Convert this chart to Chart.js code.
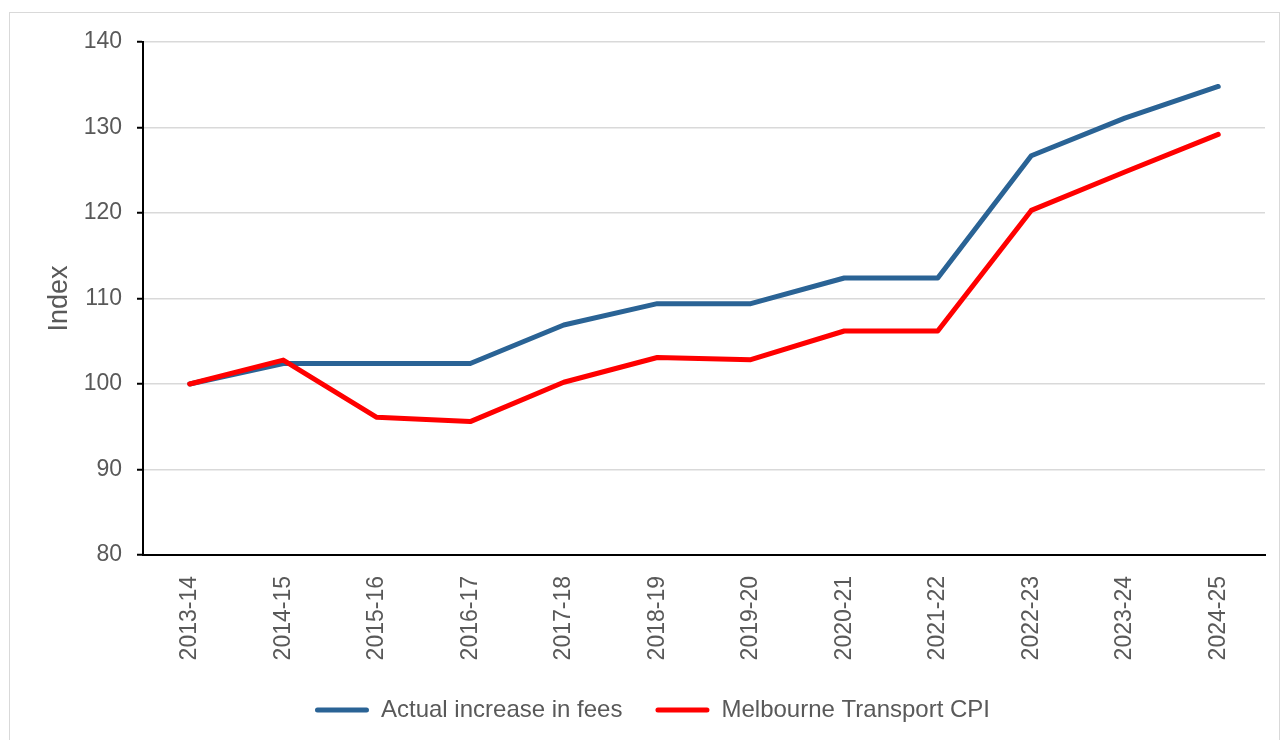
<!DOCTYPE html>
<html lang="en">
<head>
    <meta charset="UTF-8">
    <title>Fees vs Melbourne Transport CPI</title>
    <script src="https://cdn.jsdelivr.net/npm/chart.js"></script>
    <style>
        html, body { margin: 0; padding: 0; background: #ffffff; overflow: hidden; }
        .frame {
            position: absolute; left: 9px; top: 12px; width: 1271px; height: 760px;
            border: 1px solid #d9d9d9; box-sizing: border-box;
        }
        #chart { position: absolute; left: 0; top: 0; }
    </style>
</head>
<body>
    <div class="frame"></div>
    <canvas id="chart" width="1282" height="740"></canvas>

    <script>
        // Data
        const years = ['2013-14', '2014-15', '2015-16', '2016-17', '2017-18', '2018-19',
                       '2019-20', '2020-21', '2021-22', '2022-23', '2023-24', '2024-25'];
        const feesIndex = [100, 102.4, 102.4, 102.4, 106.9, 109.4, 109.4, 112.4, 112.4, 126.7, 131.1, 134.8];
        const transportCpi = [100, 102.8, 96.1, 95.6, 100.2, 103.1, 102.85, 106.2, 106.2, 120.3, 124.8, 129.2];
        const yTicks = [80, 90, 100, 110, 120, 130, 140];

        const textGrey = '#595959';
        const blue = '#2a6395';
        const red = '#ff0000';

        const ctx = document.getElementById('chart').getContext('2d');
        new Chart(ctx, {
            type: 'line',
            data: {
                labels: years,
                datasets: [
                    { label: 'Actual increase in fees', data: feesIndex, borderColor: blue, backgroundColor: blue, order: 1 },
                    { label: 'Melbourne Transport CPI', data: transportCpi, borderColor: red, backgroundColor: red, order: 0 }
                ]
            },
            options: {
                responsive: false,
                animation: false,
                devicePixelRatio: 1,
                layout: { padding: { left: 40, right: 17, top: 42, bottom: 8 } },
                elements: {
                    line: { borderWidth: 5, tension: 0, borderCapStyle: 'round', borderJoinStyle: 'round' },
                    point: { radius: 0, hoverRadius: 0 }
                },
                scales: {
                    x: {
                        offset: true,
                        grid: { display: false, drawTicks: false },
                        border: { display: true, color: '#000000', width: 2 },
                        ticks: {
                            minRotation: 90, maxRotation: 90, autoSkip: false, padding: 21,
                            color: textGrey, font: { family: 'Liberation Sans', size: 23 }
                        },
                        afterFit: (scale) => { scale.height = 110; }
                    },
                    y: {
                        min: 80, max: 140,
                        afterBuildTicks: (scale) => { scale.ticks = yTicks.map(v => ({ value: v })); },
                        grid: { color: '#d9d9d9', lineWidth: 1.5, tickLength: 6, tickColor: '#000000', tickWidth: 2 },
                        border: { display: true, color: '#000000', width: 2 },
                        ticks: { padding: 15, color: textGrey, font: { family: 'Liberation Sans', size: 23 } },
                        title: {
                            display: true, text: 'Index', color: textGrey,
                            font: { family: 'Liberation Sans', size: 27 },
                            padding: { top: 3, bottom: 0 }
                        },
                        afterFit: (scale) => { scale.width = 103; }
                    }
                },
                plugins: {
                    tooltip: { enabled: false },
                    legend: {
                        position: 'bottom',
                        labels: {
                            color: textGrey,
                            font: { family: 'Liberation Sans', size: 24 },
                            boxWidth: 54, boxHeight: 5, padding: 33,
                            useBorderRadius: true, borderRadius: 2.5,
                            sort: (a, b) => a.datasetIndex - b.datasetIndex,
                            generateLabels: (chart) => {
                                const items = Chart.defaults.plugins.legend.labels.generateLabels(chart);
                                items.forEach(it => { it.fillStyle = it.strokeStyle; it.lineWidth = 0; });
                                return items;
                            }
                        }
                    }
                }
            }
        });
    </script>
</body>
</html>
